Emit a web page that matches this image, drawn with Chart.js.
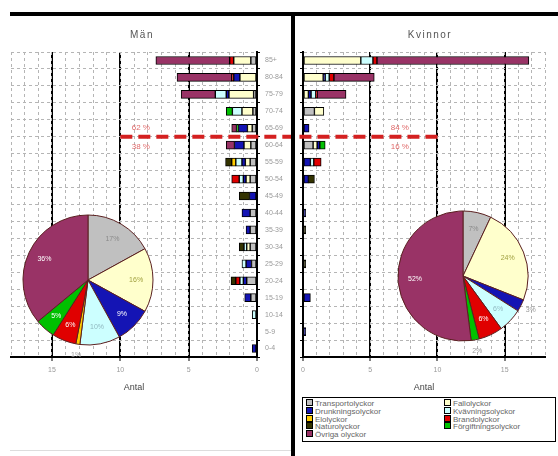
<!DOCTYPE html>
<html><head><meta charset="utf-8">
<script src="https://cdn.jsdelivr.net/npm/chart.js@4"></script>
<style>
body{margin:0;background:#fff;width:558px;height:456px;overflow:hidden;position:relative;font-family:"Liberation Sans",Arial,sans-serif}
canvas{position:absolute}
.t{position:absolute;color:#555;font-size:10px;letter-spacing:1.5px;transform:translateX(-50%);white-space:nowrap}
.bar{position:absolute;background:#000}
#legend{position:absolute;left:302px;top:397px;width:252px;height:43px;border:1px solid #000;background:#fff}
.li{position:absolute;font-size:8px;color:#666;white-space:nowrap;line-height:8px}
.sw{display:inline-block;width:5px;height:5px;border:1px solid #000;margin-right:2px;vertical-align:0px}
</style></head><body>
<canvas id="men" width="293" height="456" style="left:0;top:0"></canvas>
<canvas id="women" width="263" height="456" style="left:295px;top:0"></canvas>
<canvas id="menPie" width="180" height="180" style="left:-2px;top:190px"></canvas>
<canvas id="womenPie" width="180" height="180" style="left:373px;top:186px"></canvas>
<div class="bar" style="left:10px;top:12px;width:548px;height:4px"></div>
<div class="bar" style="left:291px;top:12px;width:4px;height:444px"></div>
<div style="position:absolute;left:10px;top:450px;width:281px;height:1px;background:#ddd"></div>
<div class="t" style="left:142px;top:29px">Män</div>
<div class="t" style="left:430px;top:29px">Kvinnor</div>
<div id="legend"></div>
<script>
const ageGroups = ['85+','80-84','75-79','70-74','65-69','60-64','55-59','50-54','45-49','40-44','35-39','30-34','25-29','20-24','15-19','10-14','5-9','0-4'];
const causes = ['Transportolyckor','Fallolyckor','Drunkningsolyckor','Kvävningsolyckor','Elolyckor','Brandolyckor','Naturolyckor','Förgiftningsolyckor','Övriga olyckor'];
const causeColors = ['#C0C0C0','#FFFFCC','#1414B4','#CCFFFF','#FFCC00','#E00000','#333300','#00C000','#993366'];

// Män (order of ageGroups)
const menTransport = [0.45,0,0.25,0.3,0.35,0.45,0.5,0.5,0,0.5,0.5,0.5,0.4,0.75,0.45,0,0,0];
const menFall      = [1.25,1.25,1.8,0.8,0.35,0.5,0.35,0.3,0,0,0,0.25,0,0,0,0,0,0];
const menDrunkning = [0,0.45,0.2,0,0.65,0.7,0.25,0.2,0.55,0.6,0.3,0,0.4,0.25,0.45,0,0,0.35];
const menKvavning  = [0,0,0.8,0.7,0,0,0.45,0.3,0,0,0,0.2,0.3,0.25,0,0.35,0,0];
const menEl        = [0,0,0,0,0,0,0.3,0,0,0,0,0,0,0,0,0,0,0];
const menBrand     = [0.3,0.15,0,0,0,0,0,0.55,0,0,0,0,0,0.3,0,0,0,0];
const menNatur     = [0,0,0,0,0,0,0.45,0,0.75,0,0,0.35,0,0.35,0,0,0,0];
const menForgift   = [0,0,0,0.45,0.15,0,0,0,0,0,0,0,0,0,0,0,0,0];
const menOvriga    = [5.4,4.0,2.5,0,0.35,0.6,0,0,0,0,0,0,0,0,0,0,0,0];

// Kvinnor
const womenTransport = [0,0,0,0.85,0,0.75,0,0,0,0,0,0,0,0,0,0,0,0];
const womenFall      = [4.3,1.5,0.4,0.7,0,0.3,0,0,0,0,0,0,0,0,0,0,0,0];
const womenDrunkning = [0,0.15,0.2,0,0.45,0.2,0.55,0.4,0,0.2,0,0,0,0,0.55,0,0.2,0];
const womenKvavning  = [0.9,0.3,0.35,0,0,0,0.25,0,0,0,0,0,0,0,0,0,0,0];
const womenEl        = [0,0,0,0,0,0,0,0,0,0,0,0,0,0,0,0,0,0];
const womenBrand     = [0.3,0.35,0.1,0,0,0,0.55,0,0,0,0,0,0,0,0,0,0,0];
const womenNatur     = [0,0,0,0,0,0,0,0.45,0,0,0.2,0,0.2,0,0,0,0,0];
const womenForgift   = [0,0,0,0,0,0.4,0,0,0,0,0,0,0,0,0,0,0,0];
const womenOvriga    = [11.3,3.0,2.15,0,0,0,0,0,0,0,0,0,0,0,0,0,0,0];

// Pie shares (%)
const menPie   = [17,16,9,10,1,6,0,5,36];
const womenPie = [7,24,3,6,0,6,0,2,52];

// Share above / below 65 years (%)
const menShare = [62,38];
const womenShare = [84,16];
const splitLabel = '65-69';
const axisTicks = [0,5,10,15];
const axisTitle = 'Antal';

const menSeries = [menTransport,menFall,menDrunkning,menKvavning,menEl,menBrand,menNatur,menForgift,menOvriga];
const womenSeries = [womenTransport,womenFall,womenDrunkning,womenKvavning,womenEl,womenBrand,womenNatur,womenForgift,womenOvriga];

const FF = '"Liberation Sans", Arial, sans-serif';

const splitPlugin = {
  id:'split',
  afterDatasetsDraw(chart, args, opts){
    const {ctx} = chart; const x = chart.scales.x, y = chart.scales.y;
    const i = chart.data.labels.indexOf(splitLabel);
    const yp = (y.getPixelForValue(i) + y.getPixelForValue(i+1))/2;
    const xa = x.getPixelForValue(10);
    const xb = opts.side === 'left' ? chart.width : 0;
    ctx.save();
    ctx.strokeStyle = '#D42020'; ctx.lineWidth = 4; ctx.setLineDash([12,6]);
    ctx.beginPath(); ctx.moveTo(xa, yp); ctx.lineTo(xb, yp); ctx.stroke();
    ctx.setLineDash([]);
    ctx.fillStyle = '#E06A6A'; ctx.font = '8px ' + FF; ctx.textAlign = 'center'; ctx.textBaseline = 'middle';
    const tx = x.getPixelForValue(opts.textValue);
    ctx.fillText(opts.share[0] + ' %', tx, yp - 9);
    ctx.fillText(opts.share[1] + ' %', tx, yp + 10);
    ctx.restore();
  }
};

function barConfig(series, side, share, textValue){
  return {
    type:'bar',
    data:{ labels: ageGroups, datasets: causes.map((c,i)=>({
      label:c, data: series[i], backgroundColor: causeColors[i], borderColor:'#000', borderWidth:1,
      borderSkipped:false, barThickness:8 })) },
    options:{
      indexAxis:'y', responsive:false, animation:false,
      layout:{ padding: side==='left' ? {left:11, top:52, right:0, bottom:61} : {left:0, top:52, right:13, bottom:61} },
      plugins:{ legend:{display:false}, tooltip:{enabled:false}, split:{side, share, textValue} },
      scales:{
        x:{ type:'linear', min:0, max:18, reverse: side==='left', stacked:true, position:'bottom',
            afterBuildTicks(s){ s.ticks = axisTicks.map(v=>({value:v})); },
            ticks:{ color:'#999', font:{size:7, family:FF}, padding:5, maxRotation:0 },
            grid:{ color:'#000', lineWidth:2, drawTicks:true, tickLength:4, tickColor:'#000', tickWidth:1 },
            border:{ display:true, color:'#000', width:2 },
            title:{ display:true, text:axisTitle, color:'#444', font:{size:9, family:FF}, padding:{top:0,bottom:2} },
            afterFit(s){ s.height = 38; } },
        xMinor:{ type:'linear', axis:'x', position:'top', min:0, max:18, reverse: side==='left',
            ticks:{ display:false, stepSize:1 },
            grid:{ color:'#b5b5b5', lineWidth:1, drawTicks:false },
            border:{ display:false, dash:[3,3] },
            afterFit(s){ s.height = 0; } },
        y:{ type:'category', position: side==='left' ? 'right' : 'left', stacked:true, offset:true,
            ticks:{ display: side==='left', color:'#999', font:{size:7, family:FF}, padding:5, autoSkip:false },
            grid:{ color:'#b5b5b5', lineWidth:1, offset:true, drawTicks:true, tickLength:3, tickColor:'#000' },
            border:{ display:true, color:'#000', width:2, dash:[3,3] },
            afterFit(s){ s.width = side==='left' ? 36 : 8; } }
      }
    },
    plugins:[splitPlugin]
  };
}

new Chart(document.getElementById('men'), barConfig(menSeries, 'left', menShare, 8.5));
new Chart(document.getElementById('women'), barConfig(womenSeries, 'right', womenShare, 7.2));

const labelColors = ['#8a8a8a','#a0a040','#ffffff','#90b8c0','#a08000','#ffffff','#ffffff','#ffffff','#ffffff'];
const pieLabelPlugin = {
  id:'pieLabels',
  afterDatasetsDraw(chart){
    const {ctx} = chart; const meta = chart.getDatasetMeta(0); const data = chart.data.datasets[0].data;
    ctx.save(); ctx.font = '7px ' + FF; ctx.textAlign='center'; ctx.textBaseline='middle';
    meta.data.forEach((arc,i)=>{
      const v = data[i]; if (!v) return;
      const p = arc.getProps(['x','y','startAngle','endAngle','outerRadius'], true);
      const mid = (p.startAngle + p.endAngle)/2;
      const outside = v < 4;
      const r = outside ? p.outerRadius + 11 : p.outerRadius * 0.74;
      const lx = p.x + Math.cos(mid)*r, ly = p.y + Math.sin(mid)*r;
      ctx.fillStyle = outside ? '#999' : labelColors[i];
      ctx.fillText(v + '%', lx, ly);
    });
    ctx.restore();
  }
};
function pieConfig(values){
  return {
    type:'pie',
    data:{ labels: causes, datasets:[{ data: values, backgroundColor: causeColors, borderColor:'#5a2020', borderWidth:1 }] },
    options:{ responsive:false, animation:false, radius:65,
      plugins:{ legend:{display:false}, tooltip:{enabled:false} } },
    plugins:[pieLabelPlugin]
  };
}
new Chart(document.getElementById('menPie'), pieConfig(menPie));
new Chart(document.getElementById('womenPie'), pieConfig(womenPie));

// Legend
const lg = document.getElementById('legend');
causes.forEach((c,i)=>{
  const d = document.createElement('div'); d.className='li';
  d.style.left = (i%2 ? 141 : 3) + 'px';
  d.style.top = (1 + Math.floor(i/2)*7.8) + 'px';
  d.innerHTML = '<span class="sw" style="background:'+causeColors[i]+'"></span>' + c;
  lg.appendChild(d);
});
</script>
</body></html>
